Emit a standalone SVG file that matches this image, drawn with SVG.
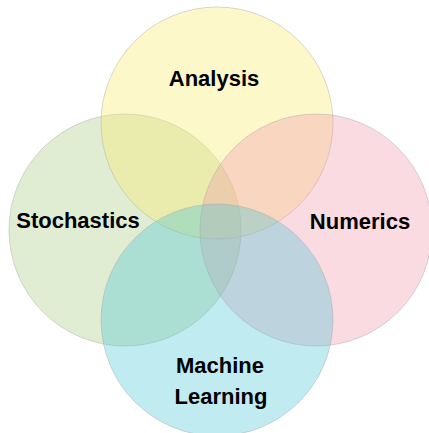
<svg xmlns="http://www.w3.org/2000/svg" width="429" height="433" viewBox="0 0 429 433">
  <style>
    .set { fill-opacity: 0.35; stroke: #a8a8a8; stroke-opacity: 0.45; stroke-width: 1; }
    .label { font-family: "Liberation Sans", Arial, sans-serif; font-weight: bold; font-size: 22px; fill: #000; text-anchor: middle; }
  </style>
  <rect width="429" height="433" fill="#ffffff"/>
  <!-- four sets, stacked so each translucent fill tints the ones beneath -->
  <g id="stochastics">
    <circle class="set" cx="125" cy="230" r="116" fill="#a9cc81"/>
  </g>
  <g id="analysis">
    <circle class="set" cx="217" cy="123" r="116" fill="#f9eb68"/>
  </g>
  <g id="numerics">
    <circle class="set" cx="316" cy="230" r="116" fill="#f198ac"/>
  </g>
  <g id="machine-learning">
    <circle class="set" cx="217" cy="320" r="116" fill="#4bc6d4"/>
  </g>
  <g id="connectors"/>
  <g id="labels">
    <text class="label" x="214" y="86">Analysis</text>
    <text class="label" x="78" y="228">Stochastics</text>
    <text class="label" x="360" y="229">Numerics</text>
    <text class="label" x="220" y="373">Machine</text>
    <text class="label" x="221" y="404">Learning</text>
  </g>
</svg>
